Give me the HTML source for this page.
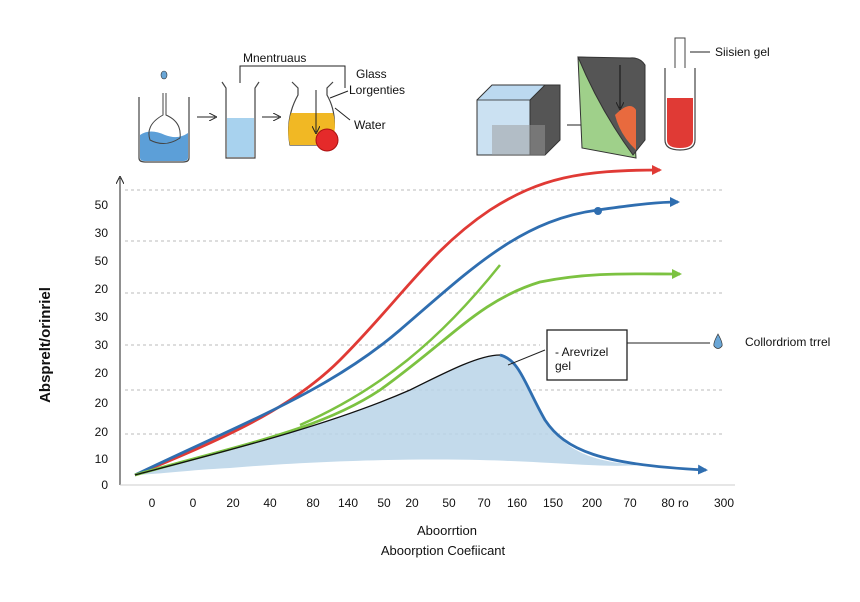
<!DOCTYPE html>
<html><head><meta charset="utf-8"><style>
body{margin:0;background:#fff;}
svg{display:block;font-family:"Liberation Sans",sans-serif;}
</style></head><body>
<svg width="860" height="602" viewBox="0 0 860 602" xmlns="http://www.w3.org/2000/svg">
<defs>
<marker id="ar" markerWidth="10" markerHeight="10" refX="8" refY="5" orient="auto" markerUnits="userSpaceOnUse"><path d="M0,0 L10,5 L0,10 z" fill="context-stroke"/></marker>
<marker id="ar2" markerWidth="8" markerHeight="8" refX="6" refY="4" orient="auto" markerUnits="userSpaceOnUse"><path d="M0,0 L8,4 L0,8" fill="none" stroke="#222" stroke-width="1"/></marker>
</defs>
<rect width="860" height="602" fill="#fff"/>
<ellipse cx="164" cy="75" rx="3" ry="4" fill="#6aa6d6" stroke="#333" stroke-width="0.6"/>
<path d="M139,97 L139,158 Q139,162 145,162 L183,162 Q189,162 189,158 L189,97" fill="#fff" stroke="#444" stroke-width="1.2"/>
<path d="M140,135 Q150,128 165,135 Q178,140 188,133 L188,158 Q188,161 183,161 L145,161 Q140,161 140,158z" fill="#5c9fd8"/>
<path d="M163,93 L163,115 Q145,125 150,140 Q165,148 180,138 Q182,122 166,115 L166,93" fill="none" stroke="#444"/>
<line x1="197" y1="117" x2="215" y2="117" stroke="#222" marker-end="url(#ar2)"/>
<path d="M222,82 L226,88 L226,158 L255,158 L255,88 L259,82" fill="#fff" stroke="#444" stroke-width="1.2"/>
<rect x="227" y="118" width="27" height="39" fill="#a8d2ee"/>
<polyline points="240,83 240,66 345,66 345,88" fill="none" stroke="#222"/>
<text x="243" y="62" font-size="12" fill="#111">Mnentruaus</text>
<line x1="262" y1="117" x2="279" y2="117" stroke="#222" marker-end="url(#ar2)"/>
<path d="M292,82 L298,88 L298,95 Q285,118 290,145 L330,145 Q340,118 327,95 L327,88 L333,82" fill="#fff" stroke="#444" stroke-width="1.2"/>
<path d="M291,113 L333,113 Q338,130 330,145 L290,145 Q286,130 291,113z" fill="#f1b824"/>
<line x1="316" y1="90" x2="316" y2="132" stroke="#222" marker-end="url(#ar2)"/>
<circle cx="327" cy="140" r="11" fill="#e52a2a" stroke="#a11" />
<text x="356" y="78" font-size="12" fill="#111">Glass</text>
<text x="349" y="94" font-size="12" fill="#111">Lorgenties</text>
<text x="354" y="129" font-size="12" fill="#111">Water</text>
<path d="M348,91 L330,98 M350,120 L335,108" stroke="#222" fill="none"/>
<path d="M477,100 L492,85 L545,85 L545,140 L530,155 L477,155z" fill="#bcd9f0" stroke="#333"/>
<rect x="477" y="100" width="53" height="55" fill="#cfe3f3" stroke="#333" opacity="0.8"/>
<path d="M530,100 L545,85 L560,85 L560,140 L545,155 L530,155z" fill="#555" stroke="#333"/>
<path d="M492,125 L545,125 L545,155 L492,155z" fill="#999" opacity="0.5"/>
<line x1="567" y1="125" x2="598" y2="125" stroke="#222" marker-end="url(#ar2)"/>
<path d="M578,57 L630,60 L636,158 L582,148z" fill="#9fd08a" stroke="#333"/>
<path d="M578,57 Q600,110 633,155 L645,140 L645,65 Q640,57 630,58z" fill="#555" stroke="#333"/>
<path d="M615,115 Q630,100 636,110 L636,150 Q620,135 615,115z" fill="#e86a3e"/>
<line x1="620" y1="65" x2="620" y2="108" stroke="#111" marker-end="url(#ar2)"/>
<rect x="675" y="38" width="10" height="50" fill="#fff" stroke="#444"/>
<path d="M665,68 L665,140 Q665,150 680,150 Q695,150 695,140 L695,68" fill="#fff" stroke="#444" stroke-width="1.2"/>
<path d="M667,98 L693,98 L693,140 Q693,148 680,148 Q667,148 667,140z" fill="#e03a35"/>
<line x1="690" y1="52" x2="710" y2="52" stroke="#222"/>
<text x="715" y="56" font-size="12" fill="#111">Siisien gel</text>
<g stroke="#bbb" stroke-dasharray="3,3" stroke-width="1">
<line x1="125" y1="190" x2="725" y2="190"/><line x1="125" y1="241" x2="725" y2="241"/>
<line x1="125" y1="293" x2="725" y2="293"/><line x1="125" y1="345" x2="540" y2="345"/>
<line x1="125" y1="390" x2="725" y2="390"/><line x1="125" y1="434" x2="725" y2="434"/>
</g>
<line x1="120" y1="485" x2="120" y2="178" stroke="#222" marker-end="url(#ar2)"/>
<line x1="120" y1="485" x2="735" y2="485" stroke="#ccc"/>
<g font-size="12" fill="#111" text-anchor="end">
<text x="108" y="209">50</text><text x="108" y="237">30</text><text x="108" y="265">50</text><text x="108" y="293">20</text><text x="108" y="321">30</text><text x="108" y="349">30</text><text x="108" y="377">20</text><text x="108" y="407">20</text><text x="108" y="436">20</text><text x="108" y="463">10</text><text x="108" y="489">0</text>
</g>
<g font-size="12" fill="#111" text-anchor="middle">
<text x="152" y="507">0</text><text x="193" y="507">0</text><text x="233" y="507">20</text><text x="270" y="507">40</text><text x="313" y="507">80</text><text x="348" y="507">140</text><text x="384" y="507">50</text><text x="412" y="507">20</text><text x="449" y="507">50</text><text x="484" y="507">70</text><text x="517" y="507">160</text><text x="553" y="507">150</text><text x="592" y="507">200</text><text x="630" y="507">70</text><text x="675" y="507">80 ro</text><text x="724" y="507">300</text>
</g>
<text x="447" y="535" font-size="13" text-anchor="middle" fill="#111">Aboorrtion</text>
<text x="443" y="555" font-size="13" text-anchor="middle" fill="#111">Aboorption Coefiicant</text>
<text transform="translate(50,345) rotate(-90)" font-size="15" font-weight="bold" text-anchor="middle" fill="#111">Absprelt/orinriel</text>
<path d="M135,475 C230,450 330,425 410,390 C450,370 480,355 500,355 C520,360 525,385 545,420 C565,450 590,462 640,465 C600,468 560,462 480,460 C400,458 300,462 230,468 C190,470 160,474 135,475z" fill="#b8d3e8" opacity="0.85"/>
<path d="M135,475 C220,440 290,410 340,360 C400,300 430,250 490,210 C540,178 580,170 660,170" fill="none" stroke="#e03a35" stroke-width="2.8" marker-end="url(#ar)"/>
<path d="M135,475 C250,420 330,390 400,330 C470,270 520,220 598,210 C640,204 660,202 678,202" fill="none" stroke="#2f6eb0" stroke-width="2.8" marker-end="url(#ar)"/>
<circle cx="598" cy="211" r="4" fill="#2f6eb0"/>
<path d="M135,475 C240,445 320,430 380,390 C450,340 480,300 540,282 C590,272 630,274 680,274" fill="none" stroke="#7cc241" stroke-width="2.8" marker-end="url(#ar)"/>
<path d="M300,425 C380,390 440,340 500,265" fill="none" stroke="#7cc241" stroke-width="2.5"/>
<path d="M135,475 C230,450 330,425 410,390 C450,370 480,355 500,355" fill="none" stroke="#111" stroke-width="1.3"/>
<path d="M500,355 C520,360 525,385 545,420 C565,450 600,465 706,470" fill="none" stroke="#2f6eb0" stroke-width="2.8" marker-end="url(#ar)"/>
<rect x="547" y="330" width="80" height="50" fill="#fff" stroke="#222" stroke-width="1.3"/>
<text x="555" y="356" font-size="12" fill="#111">- Arevrizel</text>
<text x="555" y="370" font-size="12" fill="#111">gel</text>
<line x1="508" y1="365" x2="545" y2="350" stroke="#222"/>
<polyline points="627,343 710,343" fill="none" stroke="#222"/>
<path d="M718,334 Q713,343 714,346 Q718,351 722,346 Q723,343 718,334z" fill="#6aa6d6" stroke="#333" stroke-width="0.7"/>
<text x="745" y="346" font-size="12" fill="#111">Collordriom trrel</text>
</svg>
</body></html>
